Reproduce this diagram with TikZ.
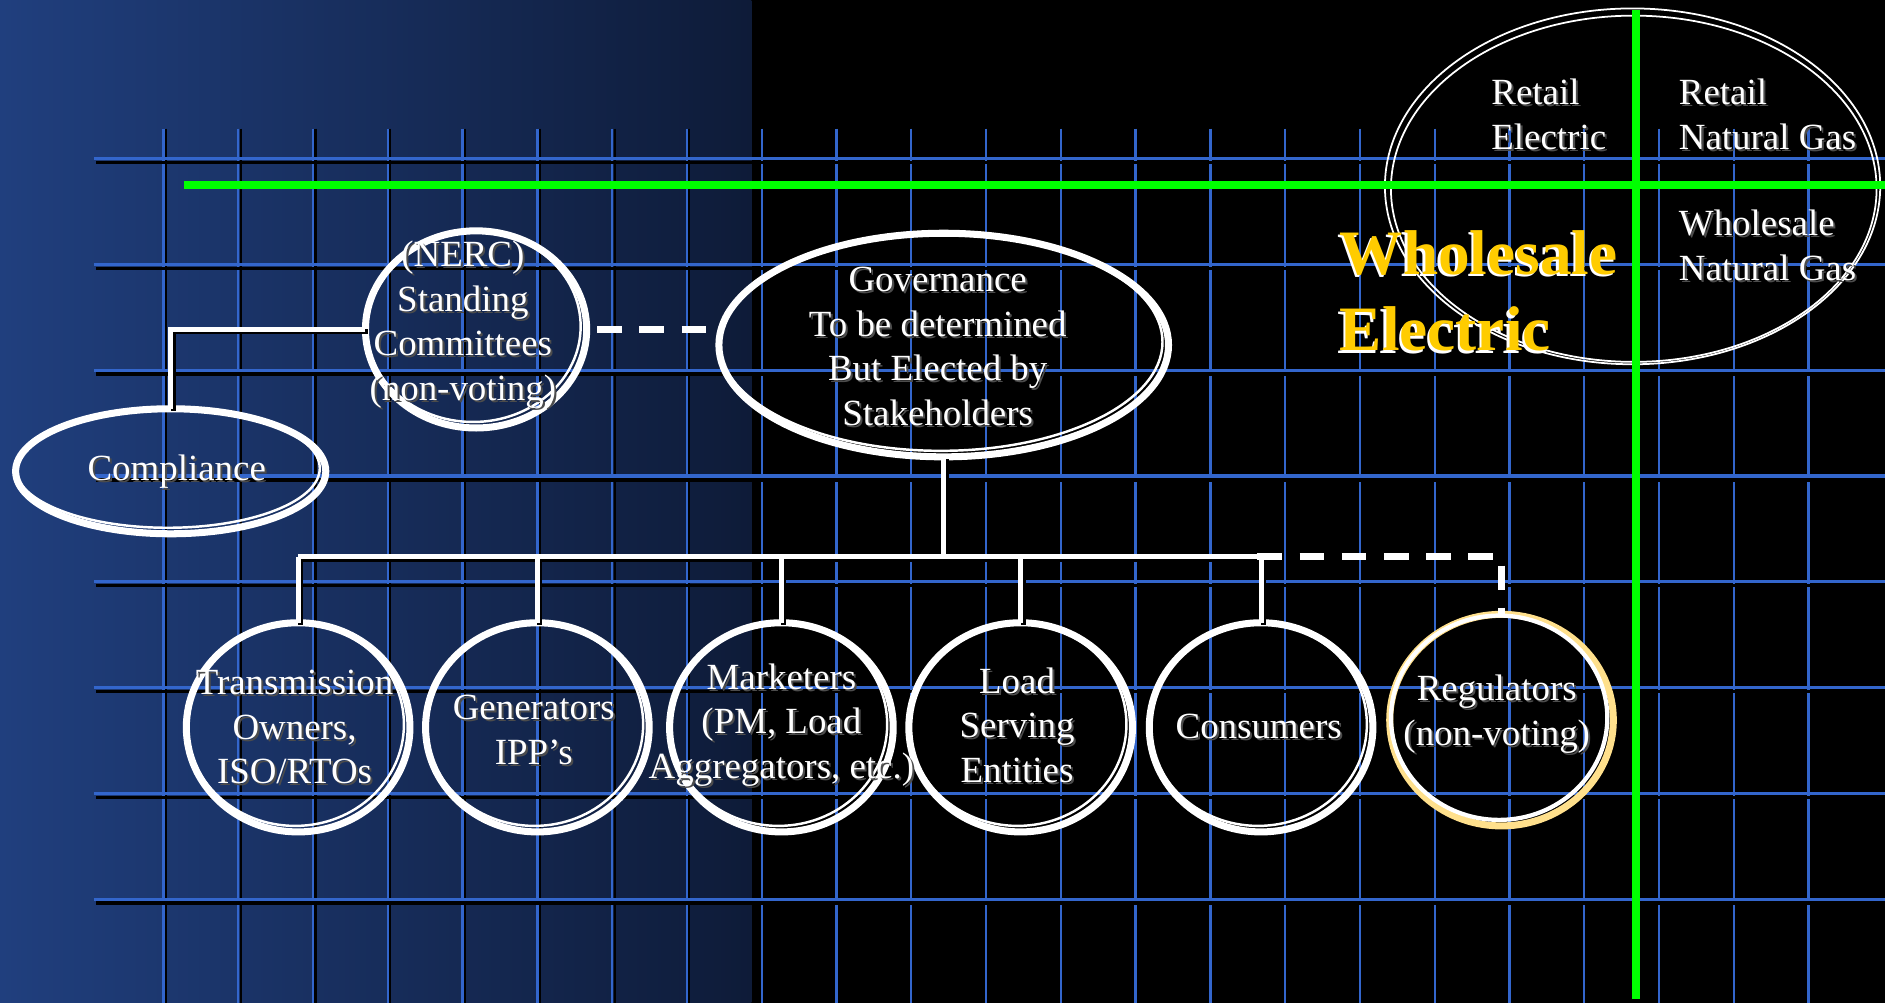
\documentclass[tikz,border=0pt]{standalone}
\usepackage{fontspec}
\setmainfont{Liberation Serif}
\usetikzlibrary{shapes.geometric}
\definecolor{gridblue}{RGB}{51,102,204}
\definecolor{bgA}{RGB}{32,63,126}
\definecolor{bgB}{RGB}{14,27,56}
\definecolor{gold}{RGB}{255,204,0}
\definecolor{regyellow}{RGB}{255,224,140}
\definecolor{neon}{RGB}{0,255,0}
\newcommand\pxu{0.012022cm}
\newcommand\stxt[4][]{%
  \node[txtsh,#1] at ([shift={(1.7,1.7)}]#3) {#4};
  \node[txt,#1] (#2) at (#3) {#4};}
\newcommand\ovl[6][white]{%
  \node[ovalnode, draw=#1, minimum width=#5*\pxu, minimum height=#6*\pxu] (#2) at (#3,#4) {};
  \draw[thinov] (#3-2.5,#4-2.5) ellipse [x radius=#5/2-2.5, y radius=#6/2-2.5];}
\begin{document}
\begin{tikzpicture}[x=0.012022cm,y=-0.012022cm,
  txt/.style={text=white, align=center, inner sep=0pt, font=\fontsize{10.5}{12.66}\selectfont},
  txtsh/.style={txt, text=black!70},
  ovalnode/.style={ellipse, line width=2pt, inner sep=0pt, outer sep=0pt},
  thinov/.style={white, line width=0.7pt},
  conn/.style={white, line width=1.45pt, preaction={draw=black, line width=1.45pt, transform canvas={xshift=0.7pt, yshift=-0.7pt}}},
  dconn/.style={white, line width=1.8pt, dash pattern=on 7pt off 5pt},
  gridv/.style={gridblue, line width=0.65pt},
  gridh/.style={gridblue, line width=0.9pt}]
\useasboundingbox (0,0) rectangle (1568,834);
% background
\fill[black] (0,0) rectangle (1568,834);
\shade[left color=bgA, right color=bgB] (0,0) rectangle (625,834);
% grid
\foreach \i in {0,...,22} {
  \draw[black, line width=0.6pt] (136+62.2*\i+2,107) -- (136+62.2*\i+2,834);
  \draw[gridv] (136+62.2*\i,107) -- (136+62.2*\i,834);
}
\foreach \yy in {132,220,308,396,484,572,660,748} {
  \draw[black, line width=1pt] (80,\yy+3.2) -- (1568,\yy+3.2);
  \draw[gridh] (78,\yy) -- (1568,\yy);
}
% big ellipse top right
\draw[white, line width=0.5pt] (1358,155) ellipse [x radius=206, y radius=148];
\draw[white, line width=0.5pt] (1359,157) ellipse [x radius=202, y radius=144];
% green axes
\draw[neon, line width=2.2pt] (153,154) -- (1568,154);
\draw[neon, line width=2.2pt] (1361,8) -- (1361,831);
% quadrant labels
\stxt[anchor=west, align=left]{tre}{1240,95}{Retail\\Electric}
\stxt[anchor=west, align=left]{trg}{1396,95}{Retail\\Natural Gas}
\stxt[anchor=west, align=left]{twg}{1396,204}{Wholesale\\Natural Gas}
\node[anchor=west, align=left, inner sep=0pt, text=white, font=\fontsize{18}{21.8}\selectfont\bfseries] at (1112,244) {Wholesale\\Electric};
\node[anchor=west, align=left, inner sep=0pt, text=gold, font=\fontsize{18}{21.8}\selectfont\bfseries] (twe) at (1114,242) {Wholesale\\Electric};
% ovals
\ovl{comp}{142}{392}{258}{104}
\ovl{nerc}{396}{274}{184}{164}
\ovl{gov}{785}{287}{374}{186}
\ovl{trans}{248}{605}{186}{174}
\ovl{gen}{447}{605}{186}{174}
\ovl{mark}{650}{605}{186}{174}
\ovl{load}{849}{605}{186}{174}
\ovl{cons}{1049}{605}{186}{174}
\node[ovalnode, draw=regyellow, minimum width=186*\pxu, minimum height=176*\pxu] (reg) at (1249,599) {};
\draw[white, line width=1.2pt] (1247,597) ellipse [x radius=90, y radius=85];
% connectors
\coordinate (busL) at (248,463);
\coordinate (busR) at (1046,463);
\draw[conn] (nerc.west) -| (comp.north);
\draw[dconn] ([xshift=3pt]nerc.east) -- (nerc.east -| gov.west);
\draw[conn] (gov.south) -- (gov.south |- busL);
\draw[conn] (busL) -- (busR);
\foreach \n in {trans,gen,mark,load,cons} {
  \draw[conn] (\n.north |- busL) -- (\n.north);
}
\draw[dconn] (busR) -| (reg.north);
% texts
\stxt{tcomp}{147,392}{Compliance}
\stxt{tnerc}{385,270}{(NERC)\\Standing\\Committees\\(non-voting)}
\stxt{tgov}{780,288}{Governance\\To be determined\\But Elected by\\Stakeholders}
\stxt{ttrans}{245,605}{Transmission\\Owners,\\ISO/RTOs}
\stxt{tgen}{444,607}{Generators\\IPP’s}
\stxt{tmark}{650,603}{Marketers\\(PM, Load\\Aggregators, etc.)}
\stxt{tload}{846,603}{Load\\Serving\\Entities}
\stxt{tcons}{1047,604}{Consumers}
\stxt{treg}{1245,594}{Regulators\\(non-voting)}
\end{tikzpicture}
\end{document}
